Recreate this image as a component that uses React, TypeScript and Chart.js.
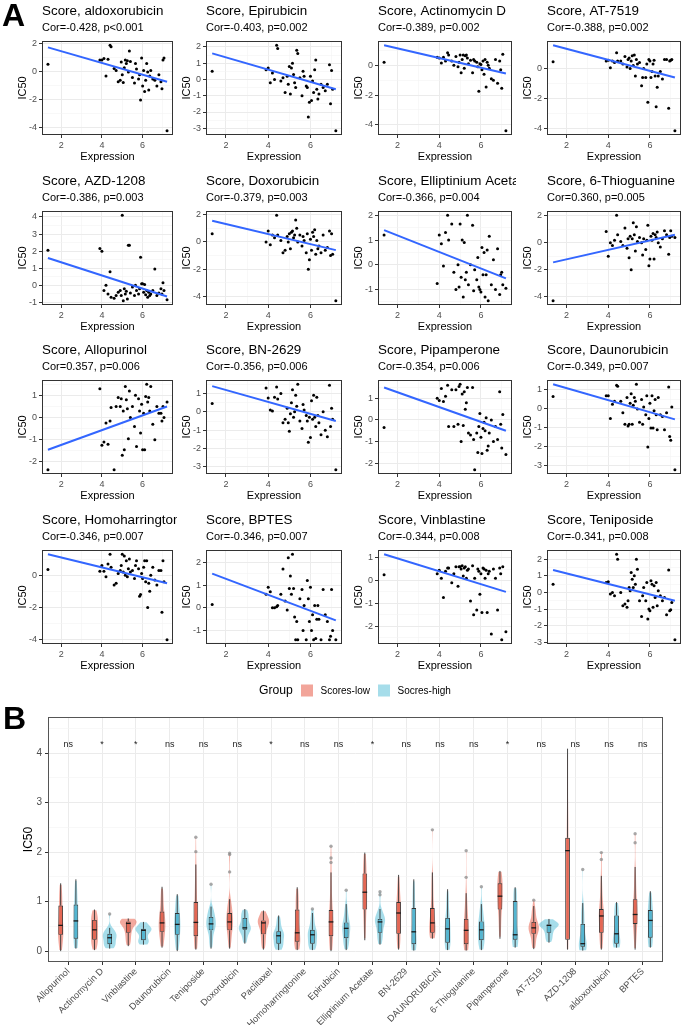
import React, { useEffect, useRef } from 'react';
import { Chart, registerables } from 'chart.js';

Chart.register(...registerables);

const FONT = '"Liberation Sans", Arial, Helvetica, sans-serif';
Chart.defaults.font.family = FONT;

// ================= Panel A data =================
const EXPRESSION = [1.35, 3.9, 4.0, 4.1, 4.2, 4.3, 4.4, 4.45, 4.6, 4.7, 4.8, 4.9, 4.95, 5.0, 5.05, 5.1, 5.15, 5.2, 5.25, 5.3, 5.35, 5.4, 5.5, 5.6, 5.65, 5.7, 5.8, 5.85, 5.9, 5.95, 6.0, 6.05, 6.1, 6.15, 6.2, 6.25, 6.3, 6.35, 6.4, 6.5, 6.6, 6.7, 6.8, 6.9, 6.95, 7.0, 7.05, 7.2];

const DRUGS_A = ['aldoxorubicin', 'Epirubicin', 'Actinomycin D', 'AT-7519', 'AZD-1208', 'Doxorubicin', 'Elliptinium Acetate', '6-Thioguanine', 'Allopurinol', 'BN-2629', 'Pipamperone', 'Daunorubicin', 'Homoharringtonine', 'BPTES', 'Vinblastine', 'Teniposide'];
const COR_VALUES = [-0.428, -0.403, -0.389, -0.388, -0.386, -0.379, -0.366, 0.360, 0.357, -0.356, -0.354, -0.349, -0.346, -0.346, -0.344, -0.341];
const P_LABELS = ['p<0.001', 'p=0.002', 'p=0.002', 'p=0.002', 'p=0.003', 'p=0.003', 'p=0.004', 'p=0.005', 'p=0.006', 'p=0.006', 'p=0.006', 'p=0.007', 'p=0.007', 'p=0.007', 'p=0.008', 'p=0.008'];

const IC50_ALDOXORUBICIN = [0.55, 0.85, 0.85, 0.95, -0.3, 0.9, 1.9, 1.8, 0.25, 0.1, -0.7, -0.6, 0.7, -0.2, -0.75, 0.3, 0.85, 0.6, 0.8, 0.0, 1.5, 0.75, -0.4, -0.8, 0.6, 0.2, -0.5, -0.2, -2.0, 1.0, -1.0, 0.1, -1.4, -0.6, 0.6, 0.0, -1.3, -0.3, 0.1, -0.5, -0.6, -1.0, -0.2, -0.7, -1.2, 0.85, 1.0, -4.2];
const IC50_EPIRUBICIN = [0.5, 0.6, 0.7, -0.2, 0.4, 0.0, 2.1, 1.9, -0.1, 0.1, -0.8, 0.2, -0.3, 0.8, -0.9, 0.7, 1.0, 0.3, -0.2, -0.5, 1.8, 1.6, 0.1, -1.0, 0.5, 0.2, -0.4, -0.5, -2.3, -1.4, 0.2, -1.3, -0.1, -0.8, 0.6, 1.2, -0.6, -1.2, -0.9, -0.3, -0.5, -0.7, -0.3, 0.9, -1.5, 0.55, -0.6, -3.15];
const IC50_ACTINOMYCIN_D = [0.2, 0.55, 0.5, 0.15, 0.55, 0.3, 0.85, 0.7, 0.3, 0.0, 0.6, -0.1, 0.2, 0.7, -0.5, 0.4, 0.7, -0.2, 0.65, 0.7, 0.5, 0.1, 0.35, -0.5, 0.4, 0.3, 0.2, -0.1, -1.75, 0.1, 0.05, -0.3, 0.3, -0.6, 0.4, -1.45, 0.2, 0.0, -0.2, -0.9, -1.0, 0.4, -1.2, 0.3, -0.3, -1.55, 0.75, -4.4];
const IC50_AT7519 = [0.45, 0.5, 0.55, 0.05, 0.5, 0.4, 1.05, 0.5, 0.5, 0.3, 0.8, 0.1, 0.6, 0.7, 0.0, 0.5, 0.85, 0.2, 0.9, -0.5, 0.6, 0.3, 0.4, -1.15, -0.6, 0.0, -0.6, 0.3, -2.25, 0.6, 0.5, -0.6, -0.2, 0.3, 0.55, -0.5, -2.55, -1.25, -0.5, -0.2, -0.7, 0.6, 0.6, -2.65, 0.5, 0.55, 0.6, -4.15];
const IC50_AZD1208 = [2.05, 2.15, 2.0, -0.3, 0.0, -0.5, 0.8, -0.7, -0.75, -0.6, -0.4, -0.3, -0.6, 4.1, -0.9, -0.2, -0.5, -0.35, -0.8, 2.35, 2.35, -0.45, -0.1, -0.6, 0.0, -0.3, -0.5, -0.2, 1.65, 0.1, 0.1, -0.4, 0.05, -0.55, -0.3, -0.7, -0.4, -0.6, -0.5, -0.3, 0.95, -0.6, -0.45, -0.2, -0.5, 0.15, -0.3, -0.85];
const IC50_DOXORUBICIN = [0.6, 0.0, 0.8, -0.2, 0.5, 0.3, 1.95, 0.5, 0.1, -0.8, -0.6, 0.4, 0.0, 0.6, -0.5, 0.7, 0.8, 0.3, 0.5, 1.6, 1.0, 0.0, 0.5, -0.3, 0.4, 0.1, -0.8, 0.6, -2.0, -1.3, 0.2, -0.6, 0.7, 0.4, 0.9, -0.9, 0.1, -0.5, -0.3, -0.8, 0.5, -0.6, -0.4, 0.8, -1.0, 0.6, -0.9, -4.3];
const IC50_ELLIPTINIUM = [1.2, -0.75, 1.2, 0.85, -0.05, 1.3, 2.0, 1.0, 1.65, -0.3, -1.0, 0.0, -0.9, 1.65, -0.5, 1.0, -1.3, 0.9, -0.6, -0.3, 2.0, -0.8, 0.0, 1.6, -1.05, -0.2, -0.6, 0.3, -0.9, -1.0, -1.1, 0.7, -0.4, 0.5, -1.3, -0.4, 0.6, -1.45, 1.15, -0.8, 0.2, -1.0, 0.65, -1.2, -0.4, -0.3, -0.8, -0.95];
const IC50_THIOGUANINE = [-4.3, 0.85, -1.0, 0.0, -0.2, 0.2, 2.05, 0.6, 0.1, -0.2, 1.1, -0.4, 0.3, -1.1, 0.5, -2.0, 0.3, 1.5, 0.6, -0.6, 1.2, 0.1, 0.4, 0.0, -0.9, 0.3, -0.5, 0.2, 1.3, -1.7, -1.2, 0.5, 0.2, 0.7, -1.2, 0.6, 0.4, 0.8, 0.0, -0.3, 0.3, 0.9, 0.6, -0.85, 0.4, 0.9, 0.5, 0.4];
const IC50_ALLOPURINOL = [-2.35, 1.3, -1.25, -1.1, -0.25, -1.2, -0.15, 0.45, -2.35, 0.5, 0.9, 0.5, 0.85, -1.7, 0.3, -1.45, 1.4, 0.8, 0.4, -0.95, 1.2, 0.0, 0.5, -0.4, 1.0, -1.3, 0.85, 0.3, -0.7, 0.6, -1.45, 0.2, -1.45, 0.95, 1.5, 0.7, 0.9, 0.3, 1.4, -0.3, -1.0, 0.5, 0.2, 0.2, -0.15, 0.5, 0.0, 0.7];
const IC50_BN2629 = [0.45, 1.3, 0.75, 0.1, 0.05, 0.8, 1.35, 0.7, 1.0, -0.6, -0.4, 0.2, -0.6, -1.05, -0.1, 0.5, 1.2, -0.3, 0.0, 0.9, 0.3, 1.5, -0.5, -0.9, 0.4, 0.1, -0.2, -0.5, -1.65, -0.3, -1.4, 0.6, -0.4, 0.9, -0.3, -0.8, 0.8, -0.2, -0.6, -1.25, 0.0, -1.0, -1.35, 1.45, -0.8, 0.2, -0.4, -3.15];
const IC50_PIPAMPERONE = [-0.35, 1.0, 0.9, 1.45, 0.85, 1.1, 1.6, -0.3, 1.4, -0.3, 1.4, -0.2, 1.55, 1.65, -1.0, 1.2, -0.25, 1.3, 0.5, 0.8, 1.5, -0.6, -0.7, 1.5, -0.9, -2.3, -0.6, -1.5, -0.3, 0.3, -0.8, -1.55, -0.4, -0.1, -0.5, 0.1, -1.4, -1.2, -0.6, 0.0, -1.0, -0.3, -0.9, 1.3, -0.2, -1.3, 0.25, -1.6];
const IC50_DAUNORUBICIN = [0.65, 0.7, 0.7, -0.5, 0.25, 0.4, 1.25, 1.2, 0.4, -0.2, -0.8, 0.6, -0.9, -0.8, 0.3, 0.8, -0.8, 0.2, 0.6, 0.4, 1.3, 0.0, -0.7, 0.5, -0.8, 0.1, -0.3, 0.7, -2.0, -0.5, 0.3, -1.0, 0.7, -1.0, -0.1, 0.5, -0.3, -1.1, 0.6, -0.3, -0.4, -1.1, -0.2, 1.15, -1.45, -1.65, 0.1, -3.2];
const IC50_HOMOHARRINGTONINE = [0.35, 0.25, 0.6, 0.25, -0.1, 0.7, 1.3, 0.5, -0.6, -0.5, 0.1, 0.3, 0.6, 1.3, 0.2, 1.2, 0.0, 0.9, -0.1, 0.4, 1.0, 0.2, 0.3, -0.2, 0.6, 0.9, 0.4, -1.3, -1.2, 0.1, -0.2, 0.5, 0.9, -0.4, 0.9, -2.0, -0.5, -1.0, 0.0, 0.5, -0.3, -0.6, 0.3, 0.3, -2.3, 0.9, -0.4, -4.0];
const IC50_BPTES = [0.15, 0.6, 0.9, 0.7, 0.0, 0.0, 0.05, 0.1, 0.6, 1.7, 0.3, -0.1, 2.2, 0.85, 1.4, 0.6, 2.35, 0.85, -0.4, -1.4, -0.6, -1.4, 0.4, 0.8, -1.0, 0.1, -1.4, 1.2, 0.4, -0.6, 0.9, -1.0, -0.3, -1.4, 0.1, -1.35, -0.5, 0.1, -0.5, -1.4, 0.8, -0.3, -0.6, -1.4, -1.25, 0.8, -1.0, -1.4];
const IC50_VINBLASTINE = [0.25, 0.3, 0.45, 0.1, -0.75, 0.4, 0.55, 0.55, -0.1, 0.3, 0.6, -0.25, 0.6, 0.6, 0.5, 0.65, 0.2, 0.55, 0.6, 0.1, 0.45, 0.5, -0.9, 0.65, -1.5, 0.1, -1.3, 0.5, 0.4, -0.6, 0.3, -1.4, 0.55, 0.5, 0.1, 0.45, -1.4, 0.3, 0.4, -2.35, 0.5, 0.1, -1.3, 0.55, 0.3, -2.6, 0.6, -2.25];
const IC50_TENIPOSIDE = [0.5, 0.6, 0.65, -0.1, 0.0, -0.2, 2.3, 2.0, 0.0, -0.8, -0.7, -0.9, -0.5, 0.3, 0.1, 1.2, 0.8, 0.3, 1.0, 0.5, 2.0, 1.4, -0.5, -1.45, -0.2, 0.3, -0.5, 0.6, -1.6, -1.0, -1.1, 0.7, 0.5, -0.9, 0.4, -0.3, 0.6, -0.8, 0.1, -0.2, -0.5, -0.3, -1.35, 1.35, -1.1, -1.05, -0.6, -2.85];

const SCATTER_IC50 = [IC50_ALDOXORUBICIN, IC50_EPIRUBICIN, IC50_ACTINOMYCIN_D, IC50_AT7519, IC50_AZD1208, IC50_DOXORUBICIN, IC50_ELLIPTINIUM, IC50_THIOGUANINE, IC50_ALLOPURINOL, IC50_BN2629, IC50_PIPAMPERONE, IC50_DAUNORUBICIN, IC50_HOMOHARRINGTONINE, IC50_BPTES, IC50_VINBLASTINE, IC50_TENIPOSIDE];

// fitted line value at lowest and highest expression
const FIT_START = [1.75, 1.6, 1.35, 1.55, 1.6, 1.55, 1.4, -1.45, -1.45, 1.4, 1.5, 1.3, 1.3, 1.5, 1.15, 1.35];
const FIT_END = [-0.7, -0.6, -0.55, -0.6, -0.65, -0.6, -0.55, 0.6, 0.5, -0.5, -0.5, -0.55, -0.5, -0.55, -0.5, -0.5];
const Y_BREAK_STEP = [2, 1, 2, 2, 1, 2, 1, 2, 1, 1, 1, 1, 2, 1, 1, 1];
const X_BREAK_STEP = 2;

// ================= Panel B data =================
const DRUGS_B = ['Allopurinol', 'Actinomycin D', 'Vinblastine', 'Daunorubicin', 'Teniposide', 'Doxorubicin', 'Paclitaxel', 'Homoharringtonine', 'Epirubicin', 'Elliptinium Acetate', 'BN-2629', 'DAUNORUBICIN', '6-Thioguanine', 'Pipamperone', 'AT-7519', 'AZD-1208', 'aldoxorubicin', 'BPTES'];
const SIGNIF = ['ns', '*', '*', 'ns', 'ns', 'ns', '*', 'ns', 'ns', '*', 'ns', 'ns', 'ns', '*', 'ns', 'ns', 'ns', 'ns'];
const SIGNIF_Y = 4.17;
const GROUP_TITLE = 'Group';
const GROUP_LABELS = ['Scores-low', 'Socres-high'];

const LOW_WHISKER_LO = [0.0, 0.02, 0.10, 0.07, 0.03, 0.05, 0.03, 0.02, 0.0, 0.22, 0.03, 0.25, 0.01, 0.25, 0.04, 0.03, 0.03, 0.03];
const LOW_Q1 = [0.33, 0.23, 0.37, 0.39, 0.30, 0.42, 0.34, 0.19, 0.30, 0.84, 0.35, 0.37, 0.14, 0.84, 0.35, 0.23, 0.37, 0.55];
const LOW_MEDIAN = [0.52, 0.43, 0.56, 0.57, 0.58, 0.59, 0.57, 0.37, 0.59, 1.19, 0.77, 0.57, 0.42, 1.11, 0.47, 2.03, 0.71, 0.74];
const LOW_Q3 = [0.92, 0.63, 0.60, 0.80, 0.99, 0.77, 0.62, 0.84, 0.83, 1.57, 0.99, 0.87, 0.65, 1.37, 0.59, 2.29, 0.85, 1.05];
const LOW_WHISKER_HI = [1.37, 0.84, 0.66, 1.30, 1.75, 1.05, 0.82, 1.29, 1.59, 1.99, 1.54, 1.59, 1.17, 1.62, 0.91, 4.09, 1.52, 1.70];
const LOW_OUTLIERS = [[], [], [], [], [2.01, 2.3], [1.6, 1.95, 1.98], [], [], [1.79, 1.88, 2.12], [], [], [2.45], [1.49, 2.03], [], [1.03], [], [1.85, 1.99], [2.19, 2.37]];

const HIGH_WHISKER_LO = [0.05, 0.05, 0.13, 0.0, 0.05, 0.15, 0.02, 0.02, 0.02, 0.13, 0.01, 0.02, 0.02, 0.07, 0.17, 0.01, 0.07, 0.07];
const HIGH_Q1 = [0.25, 0.14, 0.22, 0.33, 0.42, 0.43, 0.15, 0.15, 0.26, 0.37, 0.14, 0.17, 0.22, 0.23, 0.37, 0.09, 0.15, 0.27];
const HIGH_MEDIAN = [0.61, 0.27, 0.42, 0.54, 0.55, 0.47, 0.31, 0.33, 0.46, 0.59, 0.39, 0.45, 0.43, 0.33, 0.52, 0.15, 0.35, 0.62];
const HIGH_Q3 = [0.94, 0.35, 0.45, 0.77, 0.69, 0.67, 0.40, 0.43, 0.58, 0.65, 0.87, 0.67, 0.60, 1.01, 0.54, 0.55, 0.72, 0.83];
const HIGH_WHISKER_HI = [1.45, 0.47, 0.59, 1.15, 0.90, 0.85, 0.72, 0.77, 0.95, 0.85, 1.45, 1.25, 0.95, 1.29, 0.65, 0.97, 0.99, 1.21];
const HIGH_OUTLIERS = [[], [0.75], [], [], [1.35], [], [], [0.85], [1.23], [1.14, 1.2], [], [], [1.30], [], [], [1.65], [], []];

// ================= Styling =================
const MAJOR_GRID = '#EBEBEB';
const MINOR_GRID = '#F4F4F4';
const BORDER = '#333333';
const AXIS_TEXT = '#4D4D4D';
const VIOLIN_FILL = ['rgba(230,75,53,0.48)', 'rgba(77,187,213,0.5)'];
const BOX_FILL = ['rgba(226,92,72,0.85)', 'rgba(70,175,205,0.85)'];
const LEGEND_FILL = ['rgba(230,75,53,0.5)', 'rgba(77,187,213,0.5)'];

const PLOT_LEFTS = [42, 206, 378, 547];
const PLOT_RIGHTS = [174, 343, 513, 682];
const ROW_TOPS = [0, 170, 339, 509];
const Y_AXIS_W = 38;

const isMajor = (v: number, s: number) => Math.abs(v / s - Math.round(v / s)) < 1e-6;

// ticks at every multiple of `step` that lies inside the axis range
function stepTicks(step: number) {
  return (s: any) => {
    const out: any[] = [];
    const start = Math.ceil(s.min / step - 1e-9);
    for (let k = start; k * step <= s.max + 1e-9; k++) out.push({ value: +(k * step).toFixed(6) });
    s.ticks = out;
  };
}

const headerPlugin = {
  id: 'header',
  afterDraw(chart: any, _args: any, opts: any) {
    const { ctx, chartArea } = chart;
    ctx.save();
    ctx.strokeStyle = BORDER;
    ctx.lineWidth = 1;
    ctx.strokeRect(chartArea.left + 0.5, chartArea.top + 0.5, chartArea.right - chartArea.left - 1, chartArea.bottom - chartArea.top - 1);
    ctx.fillStyle = '#000';
    ctx.textBaseline = 'middle';
    ctx.textAlign = 'left';
    ctx.font = `13.4px ${FONT}`;
    ctx.fillText(opts.title, chartArea.left, 11);
    ctx.font = `11px ${FONT}`;
    ctx.fillText(opts.subtitle, chartArea.left, 28);
    ctx.restore();
  },
};

function gridOpts(step: number) {
  return {
    color: (c: any) => (c.tick && isMajor(c.tick.value, step) ? MAJOR_GRID : MINOR_GRID),
    lineWidth: (c: any) => (c.tick && isMajor(c.tick.value, step) ? 1 : 0.6),
    tickColor: (c: any) => (c.tick && isMajor(c.tick.value, step) ? BORDER : 'rgba(0,0,0,0)'),
    tickLength: 3,
    drawTicks: true,
  };
}

function scatterConfig(i: number): any {
  const ys = SCATTER_IC50[i];
  const step = Y_BREAK_STEP[i];
  const allY = [...ys, FIT_START[i], FIT_END[i]];
  const yMin = Math.min(...allY);
  const yMax = Math.max(...allY);
  const yPad = (yMax - yMin) * 0.05;
  const xMin = Math.min(...EXPRESSION);
  const xMax = Math.max(...EXPRESSION);
  const xPad = (xMax - xMin) * 0.05;
  return {
    type: 'scatter',
    data: {
      datasets: [
        {
          type: 'line',
          data: [{ x: xMin, y: FIT_START[i] }, { x: xMax, y: FIT_END[i] }],
          borderColor: '#3366FF',
          borderWidth: 2,
          pointRadius: 0,
          fill: false,
          order: 1,
        },
        {
          data: EXPRESSION.map((x, k) => ({ x, y: ys[k] })),
          backgroundColor: '#000000',
          borderWidth: 0,
          pointRadius: 1.5,
          order: 2,
        },
      ],
    },
    options: {
      animation: false,
      responsive: false,
      events: [],
      layout: { padding: { top: 41, right: 3, bottom: 3, left: 0 } },
      plugins: {
        legend: { display: false },
        tooltip: { enabled: false },
        header: {
          title: 'Score, ' + DRUGS_A[i],
          subtitle: `Cor=${COR_VALUES[i].toFixed(3)}, ${P_LABELS[i]}`,
        },
      },
      scales: {
        x: {
          type: 'linear',
          min: xMin - xPad,
          max: xMax + xPad,
          border: { display: false },
          afterBuildTicks: stepTicks(1),
          afterFit: (s: any) => { s.height = 32; },
          ticks: {
            autoSkip: false,
            maxRotation: 0,
            color: AXIS_TEXT,
            font: { size: 9 },
            padding: 2,
            callback: (v: number) => (isMajor(v, X_BREAK_STEP) ? String(Math.round(v)) : ''),
          },
          grid: gridOpts(X_BREAK_STEP),
          title: { display: true, text: 'Expression', color: '#000', font: { size: 11 }, padding: { top: 2, bottom: 3 } },
        },
        y: {
          type: 'linear',
          min: yMin - yPad,
          max: yMax + yPad,
          border: { display: false },
          afterBuildTicks: stepTicks(step / 2),
          afterFit: (s: any) => { s.width = Y_AXIS_W; },
          ticks: {
            autoSkip: false,
            color: AXIS_TEXT,
            font: { size: 9 },
            padding: 2,
            callback: (v: number) => (isMajor(v, step) ? String(Math.round(v)) : ''),
          },
          grid: gridOpts(step),
          title: { display: true, text: 'IC50', color: '#000', font: { size: 11 }, padding: { top: 12, bottom: 0 } },
        },
      },
    },
    plugins: [headerPlugin],
  };
}

function ScatterPanel({ idx }: { idx: number }) {
  const ref = useRef<HTMLCanvasElement>(null);
  useEffect(() => {
    const chart = new Chart(ref.current as HTMLCanvasElement, scatterConfig(idx));
    return () => chart.destroy();
  }, [idx]);
  const col = idx % 4;
  const row = Math.floor(idx / 4);
  const left = PLOT_LEFTS[col] - Y_AXIS_W;
  const width = PLOT_RIGHTS[col] + 3 - left;
  return (
    <canvas
      ref={ref}
      width={width}
      height={170}
      style={{ position: 'absolute', left, top: ROW_TOPS[row], width, height: 170 }}
    />
  );
}

// ---------- violin density (Gaussian KDE of the group's quantile profile) ----------
function groupSamples(stats: number[], outliers: number[]) {
  const n = 30;
  const out: number[] = [];
  for (let k = 0; k < n; k++) {
    const p = ((k + 0.5) / n) * 4;
    const seg = Math.min(3, Math.floor(p));
    const t = p - seg;
    out.push(stats[seg] + (stats[seg + 1] - stats[seg]) * t);
  }
  return out.concat(outliers);
}

function density(samples: number[]) {
  const n = samples.length;
  const mean = samples.reduce((a, b) => a + b, 0) / n;
  const sd = Math.sqrt(samples.reduce((a, b) => a + (b - mean) * (b - mean), 0) / (n - 1));
  const sorted = [...samples].sort((a, b) => a - b);
  const qf = (p: number) => {
    const h = (n - 1) * p;
    const i = Math.floor(h);
    return sorted[i] + (sorted[Math.min(i + 1, n - 1)] - sorted[i]) * (h - i);
  };
  const iqr = qf(0.75) - qf(0.25);
  let bw = 0.9 * Math.min(sd, iqr / 1.34) * Math.pow(n, -0.2);
  if (!(bw > 0)) bw = 0.9 * sd * Math.pow(n, -0.2) || 0.05;
  const lo = sorted[0];
  const hi = sorted[n - 1];
  const m = 60;
  const ys: number[] = [];
  const ds: number[] = [];
  for (let j = 0; j <= m; j++) {
    const y = lo + ((hi - lo) * j) / m;
    let d = 0;
    for (const s of samples) {
      const z = (y - s) / bw;
      d += Math.exp(-0.5 * z * z);
    }
    ys.push(y);
    ds.push(d / (n * bw * Math.sqrt(2 * Math.PI)));
  }
  return { ys, ds };
}

const LOW_STATS = DRUGS_B.map((_, k) => [LOW_WHISKER_LO[k], LOW_Q1[k], LOW_MEDIAN[k], LOW_Q3[k], LOW_WHISKER_HI[k]]);
const HIGH_STATS = DRUGS_B.map((_, k) => [HIGH_WHISKER_LO[k], HIGH_Q1[k], HIGH_MEDIAN[k], HIGH_Q3[k], HIGH_WHISKER_HI[k]]);
const STATS = [LOW_STATS, HIGH_STATS];
const OUTLIERS = [LOW_OUTLIERS, HIGH_OUTLIERS];
const VIOLINS = STATS.map((g, gi) => g.map((s, k) => density(groupSamples(s, OUTLIERS[gi][k]))));
const DMAX = Math.max(...VIOLINS.flat().map((v) => Math.max(...v.ds)));
const VIOLIN_HALF = 0.29;

const boxPlugin = {
  id: 'boxExtras',
  beforeDatasetsDraw(chart: any) {
    const { ctx, scales, chartArea } = chart;
    const xs = scales.x;
    const yS = scales.y;
    const unit = xs.getPixelForValue(2) - xs.getPixelForValue(1);
    ctx.save();
    ctx.beginPath();
    ctx.rect(chartArea.left, chartArea.top, chartArea.right - chartArea.left, chartArea.bottom - chartArea.top);
    ctx.clip();
    [0, 1].forEach((g) => {
      const meta = chart.getDatasetMeta(g);
      VIOLINS[g].forEach((prof, k) => {
        const cx = meta.data[k].x;
        ctx.beginPath();
        prof.ys.forEach((v, j) => {
          const px = cx - (prof.ds[j] / DMAX) * VIOLIN_HALF * unit;
          const py = yS.getPixelForValue(v);
          if (j === 0) ctx.moveTo(px, py);
          else ctx.lineTo(px, py);
        });
        for (let j = prof.ys.length - 1; j >= 0; j--) {
          ctx.lineTo(cx + (prof.ds[j] / DMAX) * VIOLIN_HALF * unit, yS.getPixelForValue(prof.ys[j]));
        }
        ctx.closePath();
        ctx.fillStyle = VIOLIN_FILL[g];
        ctx.fill();
      });
    });
    // whiskers
    ctx.strokeStyle = BORDER;
    ctx.lineWidth = 0.9;
    [0, 1].forEach((g) => {
      const meta = chart.getDatasetMeta(g);
      STATS[g].forEach((s, k) => {
        const cx = meta.data[k].x;
        ctx.beginPath();
        ctx.moveTo(cx, yS.getPixelForValue(s[0]));
        ctx.lineTo(cx, yS.getPixelForValue(s[1]));
        ctx.moveTo(cx, yS.getPixelForValue(s[3]));
        ctx.lineTo(cx, yS.getPixelForValue(s[4]));
        ctx.stroke();
      });
    });
    ctx.restore();
  },
  afterDatasetsDraw(chart: any) {
    const { ctx, scales } = chart;
    const xs = scales.x;
    const yS = scales.y;
    ctx.save();
    [0, 1].forEach((g) => {
      const meta = chart.getDatasetMeta(g);
      STATS[g].forEach((s, k) => {
        const el = meta.data[k];
        const cx = el.x;
        const w = el.width;
        const my = yS.getPixelForValue(s[2]);
        ctx.strokeStyle = '#1A1A1A';
        ctx.lineWidth = 1.3;
        ctx.beginPath();
        ctx.moveTo(cx - w / 2, my);
        ctx.lineTo(cx + w / 2, my);
        ctx.stroke();
        ctx.fillStyle = 'rgba(140,140,140,0.75)';
        OUTLIERS[g][k].forEach((o) => {
          ctx.beginPath();
          ctx.arc(cx, yS.getPixelForValue(o), 1.7, 0, Math.PI * 2);
          ctx.fill();
        });
      });
    });
    ctx.fillStyle = '#222';
    ctx.font = `9px ${FONT}`;
    ctx.textAlign = 'center';
    ctx.textBaseline = 'middle';
    SIGNIF.forEach((t, k) => {
      ctx.fillText(t, xs.getPixelForValue(k + 1), yS.getPixelForValue(SIGNIF_Y));
    });
    ctx.restore();
  },
  afterDraw(chart: any) {
    const { ctx, chartArea } = chart;
    ctx.save();
    ctx.strokeStyle = '#555555';
    ctx.lineWidth = 1;
    ctx.strokeRect(chartArea.left + 0.5, chartArea.top + 0.5, chartArea.right - chartArea.left - 1, chartArea.bottom - chartArea.top - 1);
    // legend
    ctx.textBaseline = 'middle';
    ctx.textAlign = 'left';
    ctx.fillStyle = '#000';
    ctx.font = `12.2px ${FONT}`;
    ctx.fillText(GROUP_TITLE, 259, 19);
    const sw = [301, 378];
    GROUP_LABELS.forEach((lab, g) => {
      ctx.fillStyle = LEGEND_FILL[g];
      ctx.fillRect(sw[g], 12.5, 12, 12);
      ctx.fillStyle = '#000';
      ctx.font = `10px ${FONT}`;
      ctx.fillText(lab, sw[g] + 19.5, 19);
    });
    ctx.restore();
  },
};

function boxConfig(): any {
  const mk = (g: number) => ({
    label: GROUP_LABELS[g],
    data: DRUGS_B.map((_, k) => ({ x: k + 1, y: [STATS[g][k][1], STATS[g][k][3]] })),
    backgroundColor: BOX_FILL[g],
    borderColor: BORDER,
    borderWidth: 0.9,
    borderSkipped: false,
    categoryPercentage: 0.9,
    barPercentage: 0.31,
  });
  return {
    type: 'bar',
    data: { datasets: [mk(0), mk(1)] },
    options: {
      animation: false,
      responsive: false,
      events: [],
      layout: { padding: { top: 45, right: 22, bottom: 2, left: 0 } },
      plugins: { legend: { display: false }, tooltip: { enabled: false } },
      scales: {
        x: {
          type: 'linear',
          min: 0.4,
          max: DRUGS_B.length + 0.6,
          offset: false,
          border: { display: false },
          afterBuildTicks: stepTicks(1),
          afterFit: (s: any) => { s.height = 63; },
          ticks: {
            autoSkip: false,
            minRotation: 45,
            maxRotation: 45,
            color: AXIS_TEXT,
            font: { size: 9.3 },
            padding: 1,
            callback: (v: number) => DRUGS_B[Math.round(v) - 1] ?? '',
          },
          grid: { color: MAJOR_GRID, lineWidth: 1, tickColor: BORDER, tickLength: 3, offset: false },
        },
        y: {
          type: 'linear',
          min: -0.22,
          max: 4.73,
          border: { display: false },
          afterBuildTicks: stepTicks(0.5),
          afterFit: (s: any) => { s.width = 48; },
          ticks: {
            autoSkip: false,
            color: AXIS_TEXT,
            font: { size: 10 },
            padding: 3,
            callback: (v: number) => (isMajor(v, 1) ? String(Math.round(v)) : ''),
          },
          grid: gridOpts(1),
          title: { display: true, text: 'IC50', color: '#000', font: { size: 12 }, padding: { top: 21, bottom: 0 } },
        },
      },
    },
    plugins: [boxPlugin],
  };
}

function BoxPanel() {
  const ref = useRef<HTMLCanvasElement>(null);
  useEffect(() => {
    const chart = new Chart(ref.current as HTMLCanvasElement, boxConfig());
    return () => chart.destroy();
  }, []);
  return (
    <canvas
      ref={ref}
      width={685}
      height={355}
      style={{ position: 'absolute', left: 0, top: 672, width: 685, height: 355 }}
    />
  );
}

const letterStyle: React.CSSProperties = {
  position: 'absolute',
  fontFamily: FONT,
  fontWeight: 'bold',
  fontSize: 32,
  lineHeight: '32px',
  color: '#000',
};

export default function App() {
  return (
    <div style={{ position: 'absolute', left: 0, top: 0, width: 685, height: 1027, background: '#fff', overflow: 'hidden' }}>
      {DRUGS_A.map((_, i) => (
        <ScatterPanel key={i} idx={i} />
      ))}
      <BoxPanel />
      <div style={{ ...letterStyle, left: 2, top: -1 }}>A</div>
      <div style={{ ...letterStyle, left: 3, top: 702 }}>B</div>
    </div>
  );
}
